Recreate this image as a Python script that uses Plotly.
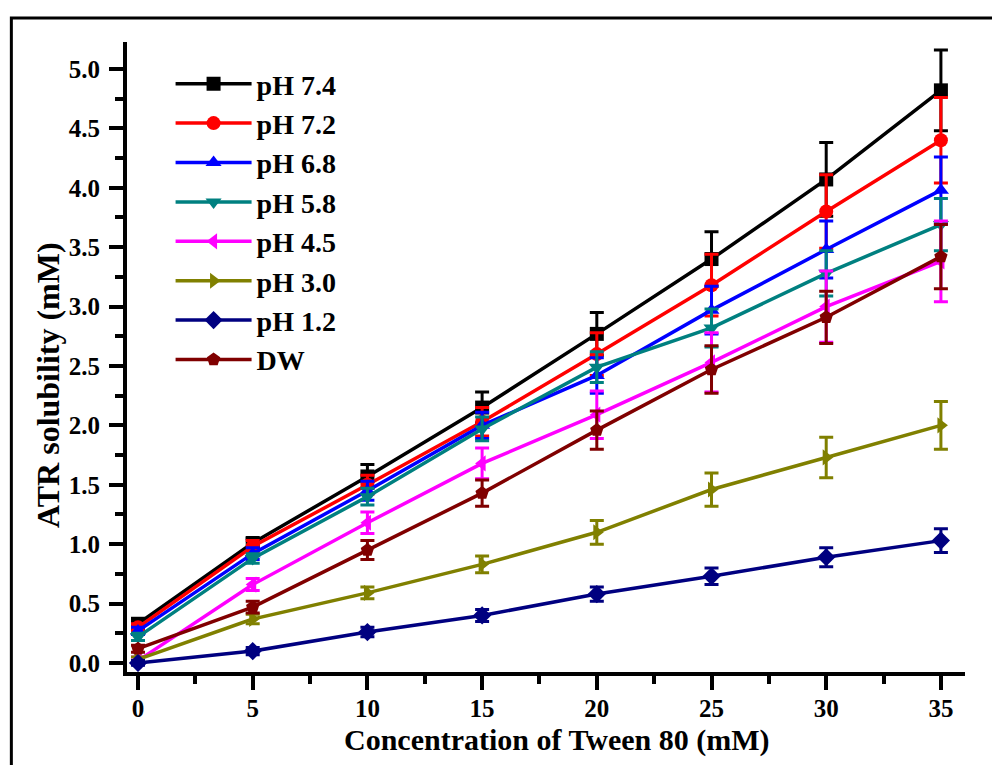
import plotly.graph_objects as go

x_vals = [0, 5, 10, 15, 20, 25, 30, 35]

names = ["pH 7.4", "pH 7.2", "pH 6.8", "pH 5.8", "pH 4.5", "pH 3.0", "pH 1.2", "DW"]

ph74 = [0.33, 1.01, 1.57, 2.15, 2.77, 3.40, 4.07, 4.82]
ph72 = [0.30, 0.98, 1.50, 2.03, 2.60, 3.18, 3.80, 4.40]
ph68 = [0.27, 0.92, 1.45, 2.00, 2.42, 2.97, 3.48, 3.98]
ph58 = [0.22, 0.88, 1.40, 1.97, 2.49, 2.82, 3.28, 3.69]
ph45 = [0.02, 0.66, 1.18, 1.68, 2.09, 2.53, 3.00, 3.38]
ph30 = [0.03, 0.37, 0.59, 0.83, 1.10, 1.46, 1.73, 2.00]
ph12 = [0.00, 0.10, 0.26, 0.40, 0.58, 0.73, 0.89, 1.03]
dw = [0.12, 0.47, 0.95, 1.43, 1.96, 2.47, 2.91, 3.42]

err74 = [0.03, 0.04, 0.10, 0.13, 0.18, 0.23, 0.31, 0.34]
err72 = [0.03, 0.05, 0.08, 0.12, 0.18, 0.26, 0.31, 0.36]
err68 = [0.03, 0.05, 0.08, 0.11, 0.15, 0.20, 0.24, 0.28]
err58 = [0.03, 0.04, 0.07, 0.10, 0.13, 0.16, 0.19, 0.22]
err45 = [0.03, 0.05, 0.09, 0.13, 0.20, 0.25, 0.30, 0.34]
err30 = [0.02, 0.04, 0.05, 0.07, 0.10, 0.14, 0.17, 0.20]
err12 = [0.02, 0.03, 0.04, 0.05, 0.06, 0.07, 0.08, 0.10]
errdw = [0.03, 0.05, 0.08, 0.11, 0.16, 0.20, 0.22, 0.27]

series = [ph74, ph72, ph68, ph58, ph45, ph30, ph12, dw]
errors = [err74, err72, err68, err58, err45, err30, err12, errdw]
colors = ["#000000", "#FF0000", "#0000FF", "#008080", "#FF00FF", "#808000", "#000080", "#800000"]
symbols = ["square", "circle", "triangle-up", "triangle-down", "triangle-left",
           "triangle-right", "diamond", "pentagon"]

x_ticks = [0, 5, 10, 15, 20, 25, 30, 35]
y_ticks = [0.0, 0.5, 1.0, 1.5, 2.0, 2.5, 3.0, 3.5, 4.0, 4.5, 5.0]
y_ticklabels = ["%.1f" % v for v in y_ticks]

x_title = "Concentration of Tween 80 (mM)"
y_title = "ATR solubility (mM)"

FONT = "Liberation Serif"

fig = go.Figure()
for name, ys, es, c, s in zip(names, series, errors, colors, symbols):
    fig.add_trace(go.Scatter(
        x=x_vals, y=ys, name=name, mode="lines+markers",
        line=dict(color=c, width=3.5),
        marker=dict(symbol=s, size=14, color=c),
        error_y=dict(type="data", array=es, visible=True, color=c, thickness=3, width=7),
    ))

# plot area: x 127..965 px, y 42..672 px
PW, PH = 838.0, 630.0

def px_to_paper_x(px):
    return (px - 127) / PW

def py_to_paper_y(py):
    return (672 - py) / PH

fig.update_layout(
    width=992, height=765,
    margin=dict(l=127, r=27, t=42, b=93),
    paper_bgcolor="white", plot_bgcolor="white",
    font=dict(family=FONT, color="black", size=24, weight="bold"),
    showlegend=True,
    legend=dict(
        x=0.052, y=0.973, xanchor="left", yanchor="top",
        bgcolor="rgba(0,0,0,0)", borderwidth=0,
        font=dict(family=FONT, size=28, color="black", weight="bold"),
        itemwidth=76, itemsizing="trace",
    ),
    xaxis=dict(
        range=[-0.48, 36.05], tickmode="array", tickvals=x_ticks,
        ticktext=[str(v) for v in x_ticks],
        showgrid=False, zeroline=False, showline=True, linecolor="black", linewidth=4,
        ticks="outside", ticklen=14, tickwidth=4, tickcolor="black",
        ticklabelstandoff=-3,
        tickfont=dict(family=FONT, size=25, weight="bold"),
        minor=dict(dtick=2.5, tick0=0, ticks="outside", ticklen=8, tickwidth=4, tickcolor="black"),
    ),
    yaxis=dict(
        range=[-0.076, 5.227], tickmode="array", tickvals=y_ticks, ticktext=y_ticklabels,
        showgrid=False, zeroline=False, showline=True, linecolor="black", linewidth=4,
        ticks="outside", ticklen=14, tickwidth=4, tickcolor="black",
        ticklabelstandoff=4,
        tickfont=dict(family=FONT, size=25, weight="bold"),
        minor=dict(dtick=0.25, tick0=0, ticks="outside", ticklen=8, tickwidth=4, tickcolor="black"),
    ),
    annotations=[
        dict(text=x_title, xref="paper", yref="paper",
             x=px_to_paper_x(556), y=py_to_paper_y(740), xanchor="center", yanchor="middle",
             showarrow=False, font=dict(family=FONT, size=30, weight="bold", color="black")),
        dict(text=y_title, xref="paper", yref="paper", textangle=-90,
             x=px_to_paper_x(48), y=py_to_paper_y(385), xanchor="center", yanchor="middle",
             showarrow=False, font=dict(family=FONT, size=32, weight="bold", color="black")),
    ],
    shapes=[dict(type="rect", xref="paper", yref="paper",
                 x0=-0.138, x1=1.036, y0=-0.2, y1=1.038,
                 line=dict(color="black", width=3), fillcolor="rgba(0,0,0,0)", layer="below")],
)

fig.write_html("out.html")
